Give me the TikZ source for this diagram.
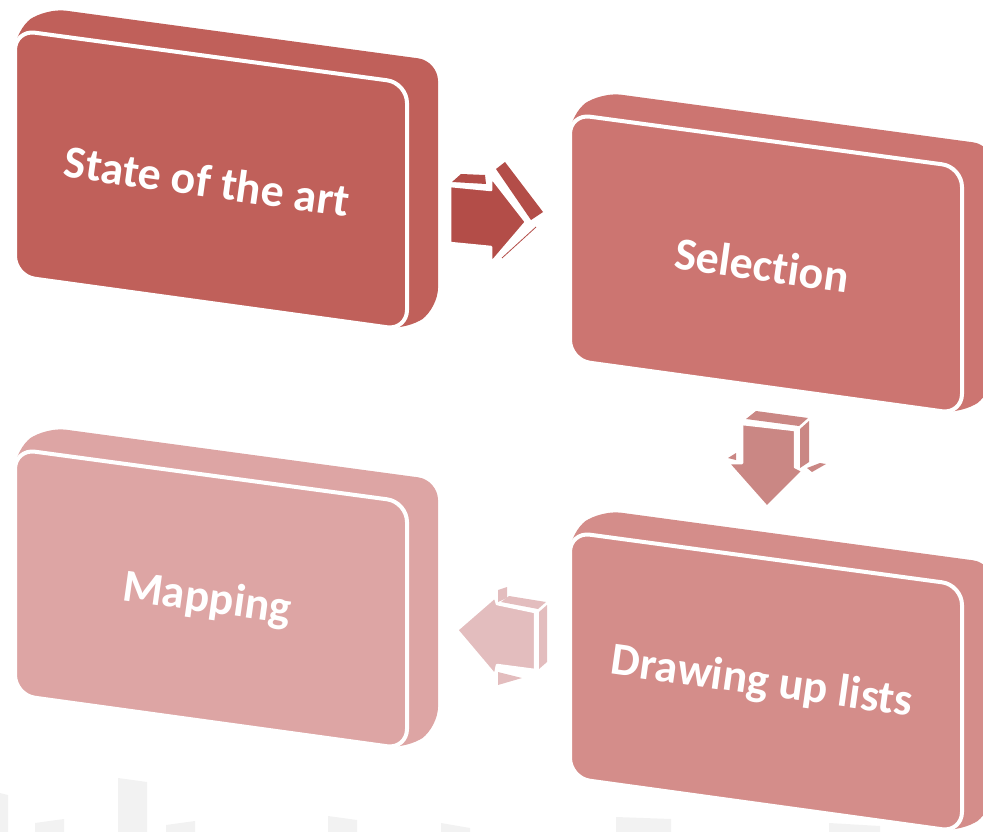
\documentclass[tikz,border=0pt]{standalone}
\usepackage{fontspec}
\setmainfont{Carlito}[Ligatures={NoCommon}]
\definecolor{boxone}{RGB}{192,96,90}
\definecolor{boxtwo}{RGB}{204,117,113}
\definecolor{boxthree}{RGB}{212,141,138}
\definecolor{boxfour}{RGB}{221,165,164}
\definecolor{arrowone}{RGB}{179,77,72}
\definecolor{arrowtwo}{RGB}{202,135,132}
\definecolor{arrowthree}{RGB}{227,189,190}
\definecolor{barg}{RGB}{242,242,242}
\begin{document}
\begin{tikzpicture}[x=1pt,y=-1pt,
  boxtext/.style={text=white, font=\bfseries\fontsize{46}{50}\selectfont, rotate=-8, inner sep=0},
  facew/.style={draw=white, line width=2.5, line join=round}]
\useasboundingbox (0,0) rectangle (983,832);
% faint background bars
\fill[barg] (0,793) -- (8,795) -- (8,832) -- (0,832) -- cycle;
\fill[barg] (35,823) -- (64,819) -- (64,832) -- (35,832) -- cycle;
\fill[barg] (118,778) -- (147,782) -- (147,832) -- (118,832) -- cycle;
\fill[barg] (166,825) -- (195,821) -- (195,832) -- (166,832) -- cycle;
\fill[barg] (328,816) -- (357,820) -- (357,832) -- (328,832) -- cycle;
\fill[barg] (441,823) -- (470,828) -- (470,832) -- (441,832) -- cycle;
\fill[barg] (616,817) -- (671,819) -- (671,832) -- (616,832) -- cycle;
\fill[barg] (829,823) -- (880,826) -- (880,832) -- (829,832) -- cycle;
% box 1
\begin{scope}[shift={(211,180)}]
  \fill[fill=boxone, rounded corners=20] (-196,96) -- (-196,-150) -- (-165,-172) -- (227,-119) -- (227,128) -- (196,150) -- cycle;
  \filldraw[fill=boxone, draw=white, line width=4, rounded corners=20] (-196,96) -- (-196,-150) -- (196,-97) -- (196,150) -- cycle;
  \node[boxtext] (art) at (-4,1) {State of the art};
\end{scope}
% box 2
\begin{scope}[shift={(766,264)}]
  \fill[fill=boxtwo, rounded corners=20] (-196,96) -- (-196,-150) -- (-165,-172) -- (227,-119) -- (227,128) -- (196,150) -- cycle;
  \filldraw[fill=boxtwo, draw=white, line width=4, rounded corners=20] (-196,96) -- (-196,-150) -- (196,-97) -- (196,150) -- cycle;
  \node[boxtext] (sel) at (-4,1) {Selection};
\end{scope}
% box 3
\begin{scope}[shift={(766,682)}]
  \fill[fill=boxthree, rounded corners=20] (-196,96) -- (-196,-150) -- (-165,-172) -- (227,-119) -- (227,128) -- (196,150) -- cycle;
  \filldraw[fill=boxthree, draw=white, line width=4, rounded corners=20] (-196,96) -- (-196,-150) -- (196,-97) -- (196,150) -- cycle;
  \node[boxtext] (lists) at (-4,1) {Drawing up lists};
\end{scope}
% box 4
\begin{scope}[shift={(211,599)}]
  \fill[fill=boxfour, rounded corners=20] (-196,96) -- (-196,-150) -- (-165,-172) -- (227,-119) -- (227,128) -- (196,150) -- cycle;
  \filldraw[fill=boxfour, draw=white, line width=4, rounded corners=20] (-196,96) -- (-196,-150) -- (196,-97) -- (196,150) -- cycle;
  \node[boxtext] (map) at (-4,1) {Mapping};
\end{scope}
% arrow 1 (right)
\fill[arrowone] (452,182) -- (461,174) -- (485,175) -- (486,184) -- cycle;
\fill[arrowone] (496,169) -- (505,162) -- (543,212) -- (531,220) -- cycle;
\draw[arrowone, line width=0.8] (502,258) -- (536,227);
\filldraw[fill=arrowone, facew] (450,186) -- (491,190) -- (491,177) -- (526,222) -- (491,263) -- (491,247) -- (450,243) -- cycle;
% arrow 2 (down)
\fill[arrowtwo] (746,419) -- (756,411) -- (808,418) -- (799,426) -- cycle;
\fill[arrowtwo] (800,429) -- (809,421) -- (809,462) -- (800,468) -- cycle;
\fill[arrowtwo] (728,458) -- (736,453) -- (736,460) -- cycle;
\fill[arrowtwo] (807,468) -- (820,463) -- (826,464) -- (812,472) -- cycle;
\filldraw[fill=arrowtwo, facew] (742,424) -- (795,430) -- (795,467) -- (803,471) -- (767,507) -- (728,463) -- (742,463) -- cycle;
% arrow 3 (left)
\fill[arrowthree] (501,602) -- (509,596) -- (546,602) -- (538,609) -- cycle;
\fill[arrowthree] (539,612) -- (547,605) -- (547,662) -- (539,669) -- cycle;
\fill[arrowthree] (498,590) -- (507,587) -- (507,598) -- (498,602) -- cycle;
\fill[arrowthree] (498,672) -- (522,678) -- (498,685) -- cycle;
\filldraw[fill=arrowthree, facew] (457,630) -- (495,597) -- (497,604) -- (535,612) -- (535,670) -- (497,665) -- (495,675) -- cycle;
\end{tikzpicture}
\end{document}
